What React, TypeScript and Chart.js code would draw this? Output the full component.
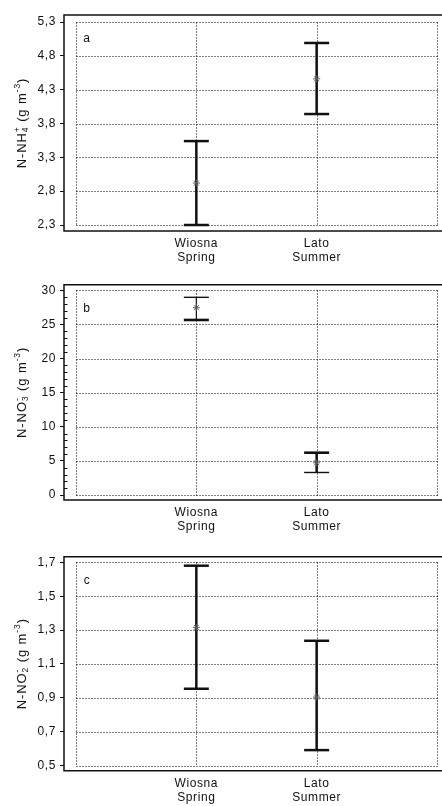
import React, { useEffect, useRef } from 'react';
import { Chart, registerables } from 'chart.js';

Chart.register(...registerables);

// ---------- data ----------
const categories: string[][] = [
  ['Wiosna', 'Spring'],
  ['Lato', 'Summer'],
];
const categoryPositions = [1, 2];
const xGridValues = [0, 1, 2, 3];

// panel a: N-NH4+
const nh4Mean = [2.92, 4.46];
const nh4Low = [2.3, 3.94];
const nh4High = [3.54, 4.99];
const nh4Ticks = [2.3, 2.8, 3.3, 3.8, 4.3, 4.8, 5.3];

// panel b: N-NO3-
const no3Mean = [27.45, 4.72];
const no3Low = [25.65, 3.3];
const no3High = [28.97, 6.2];
const no3Ticks = [0, 5, 10, 15, 20, 25, 30];
const no3MinorStep = 1;

// panel c: N-NO2-
const no2Mean = [1.316, 0.905];
const no2Low = [0.954, 0.592];
const no2High = [1.68, 1.237];
const no2Ticks = [0.5, 0.7, 0.9, 1.1, 1.3, 1.5, 1.7];

type Seg = { t: string; k: 'n' | 'sub' | 'sup' | 'subsup'; t2?: string };

const titleA: Seg[] = [
  { t: 'N-NH', k: 'n' },
  { t: '4', t2: '+', k: 'subsup' },
  { t: ' (g m', k: 'n' },
  { t: '-3', k: 'sup' },
  { t: ')', k: 'n' },
];
const titleB: Seg[] = [
  { t: 'N-NO', k: 'n' },
  { t: '3', t2: '-', k: 'subsup' },
  { t: ' (g m', k: 'n' },
  { t: '-3', k: 'sup' },
  { t: ')', k: 'n' },
];
const titleC: Seg[] = [
  { t: 'N-NO', k: 'n' },
  { t: '2', t2: '-', k: 'subsup' },
  { t: ' (g m', k: 'n' },
  { t: '-3', k: 'sup' },
  { t: ')', k: 'n' },
];

// ---------- layout / style ----------
const FONT = 'Arial, "Liberation Sans", Helvetica, sans-serif';
const INK = '#111';

interface BarStyle { stem: number[]; topCap: number[]; bottomCap: number[] }

interface PanelCfg {
  top: number;
  height: number;
  frameTop: number;
  frameBottom: number;
  padTop: number;
  padBottom: number;
  ticks: number[];
  decimals: number;
  minorStep?: number;
  mean: number[];
  low: number[];
  high: number[];
  title: Seg[];
  letter: string;
  bar: BarStyle;
}

const thick: BarStyle = { stem: [2.5, 2.5], topCap: [2.5, 2.5], bottomCap: [2.5, 2.5] };
const mixed: BarStyle = { stem: [1.2, 2.5], topCap: [1.4, 2.6], bottomCap: [2.6, 1.4] };

const panels: PanelCfg[] = [
  { top: 0, height: 270, frameTop: 15, frameBottom: 231, padTop: 7, padBottom: 6, ticks: nh4Ticks, decimals: 1, mean: nh4Mean, low: nh4Low, high: nh4High, title: titleA, letter: 'a', bar: thick },
  { top: 270, height: 270, frameTop: 14.7, frameBottom: 230, padTop: 5.6, padBottom: 5, ticks: no3Ticks, decimals: 0, minorStep: no3MinorStep, mean: no3Mean, low: no3Low, high: no3High, title: titleB, letter: 'b', bar: mixed },
  { top: 541, height: 265, frameTop: 15.7, frameBottom: 229.7, padTop: 5.6, padBottom: 5, ticks: no2Ticks, decimals: 1, mean: no2Mean, low: no2Low, high: no2High, title: titleC, letter: 'c', bar: thick },
];

function makePlugin(cfg: PanelCfg) {
  return {
    id: 'panelDeco' + cfg.letter,
    beforeDraw(chart: any) {
      chart.ctx.letterSpacing = '0.6px';
    },
    beforeDatasetsDraw(chart: any) {
      const { ctx, chartArea, scales } = chart;
      const x = scales.x;
      const y = scales.y;
      ctx.save();
      // dotted grid
      ctx.strokeStyle = '#000';
      ctx.lineWidth = 1;
      ctx.setLineDash([1, 2]);
      const xl = Math.round(x.getPixelForValue(xGridValues[0])) + 0.5;
      const xr = Math.round(x.getPixelForValue(xGridValues[xGridValues.length - 1])) + 0.5;
      const yt = Math.round(y.getPixelForValue(cfg.ticks[cfg.ticks.length - 1])) + 0.5;
      const yb = Math.round(y.getPixelForValue(cfg.ticks[0])) + 0.5;
      cfg.ticks.forEach((t) => {
        const py = Math.round(y.getPixelForValue(t)) + 0.5;
        ctx.beginPath();
        ctx.moveTo(xl, py);
        ctx.lineTo(xr, py);
        ctx.stroke();
      });
      xGridValues.forEach((g) => {
        const px = Math.round(x.getPixelForValue(g)) + 0.5;
        ctx.beginPath();
        ctx.moveTo(px, yt);
        ctx.lineTo(px, yb);
        ctx.stroke();
      });
      ctx.setLineDash([]);
      // frame (left, top, bottom)
      ctx.strokeStyle = INK;
      ctx.lineWidth = 1.5;
      const L = chartArea.left;
      ctx.beginPath();
      ctx.moveTo(chartArea.right + 2, chartArea.top);
      ctx.lineTo(L, chartArea.top);
      ctx.lineTo(L, chartArea.bottom);
      ctx.lineTo(chartArea.right + 2, chartArea.bottom);
      ctx.stroke();
      // minor ticks
      if (cfg.minorStep) {
        ctx.lineWidth = 1;
        const t0 = cfg.ticks[0];
        const t1 = cfg.ticks[cfg.ticks.length - 1];
        for (let v = t0; v <= t1 + 1e-9; v += cfg.minorStep) {
          if (cfg.ticks.some((t) => Math.abs(t - v) < 1e-9)) continue;
          const py = Math.round(y.getPixelForValue(v)) + 0.5;
          ctx.beginPath();
          ctx.moveTo(L, py);
          ctx.lineTo(L + 3.5, py);
          ctx.stroke();
        }
      }
      // error bars
      ctx.strokeStyle = INK;
      const seg = (w: number, x1: number, y1: number, x2: number, y2: number) => {
        ctx.lineWidth = w;
        ctx.beginPath();
        ctx.moveTo(x1, y1);
        ctx.lineTo(x2, y2);
        ctx.stroke();
      };
      categoryPositions.forEach((cx, i) => {
        const px = x.getPixelForValue(cx);
        const pLo = y.getPixelForValue(cfg.low[i]);
        const pHi = y.getPixelForValue(cfg.high[i]);
        seg(cfg.bar.stem[i], px, pLo, px, pHi);
        seg(cfg.bar.bottomCap[i], px - 12.5, pLo, px + 12.5, pLo);
        seg(cfg.bar.topCap[i], px - 12.5, pHi, px + 12.5, pHi);
      });
      // panel letter
      ctx.fillStyle = INK;
      ctx.font = `12px ${FONT}`;
      ctx.textAlign = 'center';
      ctx.textBaseline = 'middle';
      ctx.fillText(cfg.letter, chartArea.left + 23, chartArea.top + 24);
      ctx.restore();
    },
    afterDraw(chart: any) {
      const { ctx, chartArea } = chart;
      ctx.save();
      ctx.letterSpacing = '0.9px';
      ctx.fillStyle = INK;
      const big = `13px ${FONT}`;
      const small = `8.5px ${FONT}`;
      const widths = cfg.title.map((s) => {
        if (s.k === 'n') { ctx.font = big; return ctx.measureText(s.t).width; }
        ctx.font = small;
        const w1 = ctx.measureText(s.t).width;
        const w2 = s.t2 ? ctx.measureText(s.t2).width : 0;
        return Math.max(w1, w2);
      });
      const total = widths.reduce((a, b) => a + b, 0);
      ctx.translate(21, (chartArea.top + chartArea.bottom) / 2);
      ctx.rotate(-Math.PI / 2);
      ctx.textAlign = 'left';
      ctx.textBaseline = 'alphabetic';
      let cur = -total / 2;
      const base = 4.7;
      cfg.title.forEach((s, i) => {
        if (s.k === 'n') {
          ctx.font = big;
          ctx.fillText(s.t, cur, base);
        } else if (s.k === 'sup') {
          ctx.font = small;
          ctx.fillText(s.t, cur, base - 5.5);
        } else if (s.k === 'sub') {
          ctx.font = small;
          ctx.fillText(s.t, cur, base + 2.5);
        } else {
          ctx.font = small;
          ctx.fillText(s.t, cur, base + 2.5);
          if (s.t2) ctx.fillText(s.t2, cur, base - 6);
        }
        cur += widths[i];
      });
      ctx.restore();
      ctx.letterSpacing = '0px';
    },
  };
}

function Panel({ cfg }: { cfg: PanelCfg }) {
  const ref = useRef<HTMLCanvasElement>(null);
  useEffect(() => {
    if (!ref.current) return;
    const tmin = cfg.ticks[0];
    const tmax = cfg.ticks[cfg.ticks.length - 1];
    const inner = cfg.frameBottom - cfg.frameTop - cfg.padTop - cfg.padBottom;
    const u = (tmax - tmin) / inner;
    const yMin = tmin - cfg.padBottom * u;
    const yMax = tmax + cfg.padTop * u;
    const chart = new Chart(ref.current, {
      type: 'scatter',
      data: {
        datasets: [
          {
            data: categoryPositions.map((cx, i) => ({ x: cx, y: cfg.mean[i] })),
            pointStyle: 'star',
            radius: 3.5,
            borderColor: '#5a5a5a',
            backgroundColor: '#5a5a5a',
            borderWidth: 1,
            clip: false,
          },
        ],
      },
      options: {
        responsive: false,
        animation: false,
        devicePixelRatio: 1,
        layout: { autoPadding: false, padding: { top: cfg.frameTop, left: 0, right: 0, bottom: 0 } },
        plugins: { legend: { display: false }, tooltip: { enabled: false } },
        scales: {
          x: {
            type: 'linear',
            bounds: 'data',
            min: -0.1,
            max: 3.042,
            afterBuildTicks: (s: any) => {
              s.ticks = categoryPositions.map((v) => ({ value: v }));
            },
            afterFit: (s: any) => {
              s.height = cfg.height - cfg.frameBottom;
              s.paddingLeft = 0;
              s.paddingRight = 0;
            },
            grid: { display: false, drawTicks: false },
            border: { display: false },
            ticks: {
              autoSkip: false,
              maxRotation: 0,
              padding: 6,
              color: INK,
              font: { family: FONT, size: 12, lineHeight: 1.17 },
              callback: (v: any) => {
                const idx = categoryPositions.indexOf(Number(v));
                return idx >= 0 ? categories[idx] : '';
              },
            },
          },
          y: {
            type: 'linear',
            bounds: 'data',
            min: yMin,
            max: yMax,
            afterBuildTicks: (s: any) => {
              s.ticks = cfg.ticks.map((v) => ({ value: v }));
            },
            afterFit: (s: any) => {
              s.width = 64;
              s.paddingTop = 0;
              s.paddingBottom = 0;
            },
            grid: { drawOnChartArea: false, drawTicks: true, tickLength: 4, color: INK, lineWidth: 1 },
            border: { display: false },
            ticks: {
              padding: 4,
              color: INK,
              font: { family: FONT, size: 12 },
              callback: (v: any) => Number(v).toFixed(cfg.decimals).replace('.', ','),
            },
          },
        },
      } as any,
      plugins: [makePlugin(cfg)],
    });
    return () => chart.destroy();
  }, [cfg]);
  return (
    <canvas
      ref={ref}
      width={442}
      height={cfg.height}
      style={{ position: 'absolute', left: 0, top: cfg.top, width: 442, height: cfg.height }}
    />
  );
}

export default function App() {
  return (
    <div style={{ position: 'absolute', left: 0, top: 0, width: 442, height: 806, background: '#fff', overflow: 'hidden' }}>
      {panels.map((p) => (
        <Panel key={p.letter} cfg={p} />
      ))}
    </div>
  );
}
